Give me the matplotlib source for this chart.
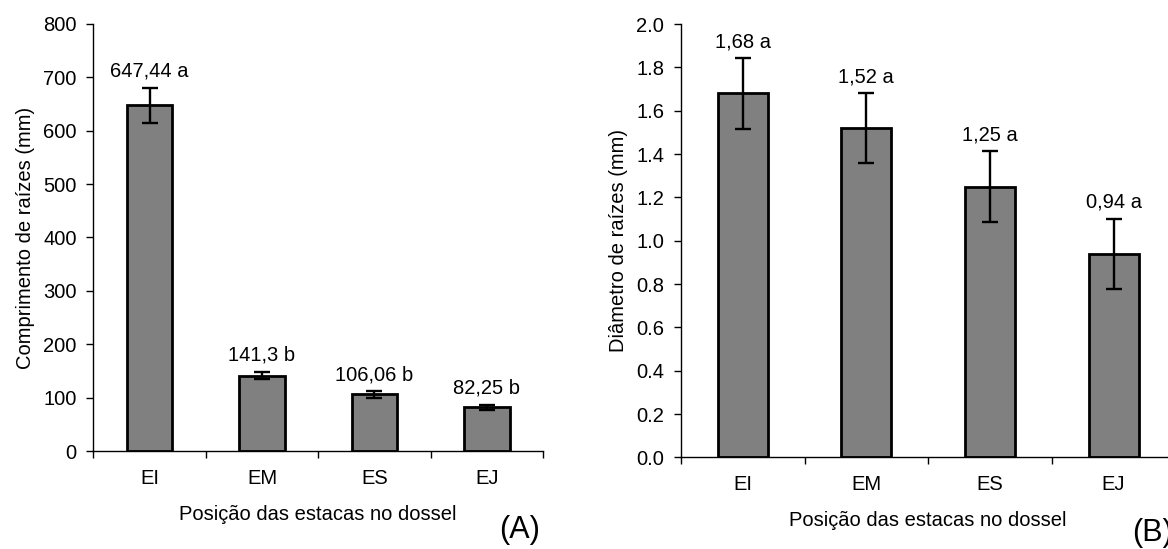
import matplotlib.pyplot as plt
from matplotlib.ticker import FixedLocator, NullFormatter

plt.rcParams['font.family'] = ['Liberation Sans', 'DejaVu Sans']
plt.rcParams['font.size'] = 14.5

categorias = ['EI', 'EM', 'ES', 'EJ']

comprimento = [647.44, 141.3, 106.06, 82.25]
comprimento_erro = [33, 7, 6, 4.5]
comprimento_rotulos = ['647,44 a', '141,3 b', '106,06 b', '82,25 b']

diametro = [1.68, 1.52, 1.25, 0.94]
diametro_erro = [0.163, 0.16, 0.163, 0.162]
diametro_rotulos = ['1,68 a', '1,52 a', '1,25 a', '0,94 a']

fig = plt.figure(figsize=(11.68, 5.49), dpi=100)
ax_a = fig.add_axes([0.0799, 0.1785, 0.3850, 0.7778])
ax_b = fig.add_axes([0.5830, 0.1670, 0.4233, 0.7890])


def painel(ax, valores, erros, rotulos, ylim, yticks, ylabel, fmt):
    x = range(len(categorias))
    ax.bar(x, valores, width=0.405, color='#808080', edgecolor='black',
           linewidth=2, yerr=erros, capsize=6,
           error_kw=dict(elinewidth=1.7, capthick=1.7, ecolor='black'))
    for xi, v, e, r in zip(x, valores, erros, rotulos):
        ax.annotate(r, (xi, v + e), xytext=(0, 5), textcoords='offset points',
                    ha='center', va='bottom')
    ax.set_xlim(-0.5, len(categorias) - 0.5)
    ax.set_ylim(*ylim)
    ax.set_yticks(yticks)
    ax.set_yticklabels([fmt.format(t) for t in yticks])
    ax.set_xticks(list(x))
    ax.set_xticklabels(categorias)
    ax.xaxis.set_minor_locator(FixedLocator([i - 0.5 for i in range(len(categorias) + 1)]))
    ax.xaxis.set_minor_formatter(NullFormatter())
    ax.tick_params(axis='x', which='major', length=0, pad=13)
    ax.tick_params(axis='x', which='minor', length=5, width=1)
    ax.tick_params(axis='y', length=5, width=1, pad=7)
    for s in ('top', 'right'):
        ax.spines[s].set_visible(False)
    for s in ('left', 'bottom'):
        ax.spines[s].set_linewidth(1)
    ax.set_ylabel(ylabel, labelpad=6)
    ax.set_xlabel('Posição das estacas no dossel', labelpad=12)


painel(ax_a, comprimento, comprimento_erro, comprimento_rotulos, (0, 800),
       list(range(0, 801, 100)), 'Comprimento de raízes (mm)', '{:.0f}')
painel(ax_b, diametro, diametro_erro, diametro_rotulos, (0, 2.0),
       [i / 5 for i in range(11)], 'Diâmetro de raízes (mm)', '{:.1f}')

fig.text(520 / 1168, 1 - 530 / 549, '(A)', fontsize=22, ha='center', va='center')
fig.text(1152 / 1168, 1 - 533 / 549, '(B)', fontsize=22, ha='center', va='center')

fig.savefig('out.png', dpi=100)
